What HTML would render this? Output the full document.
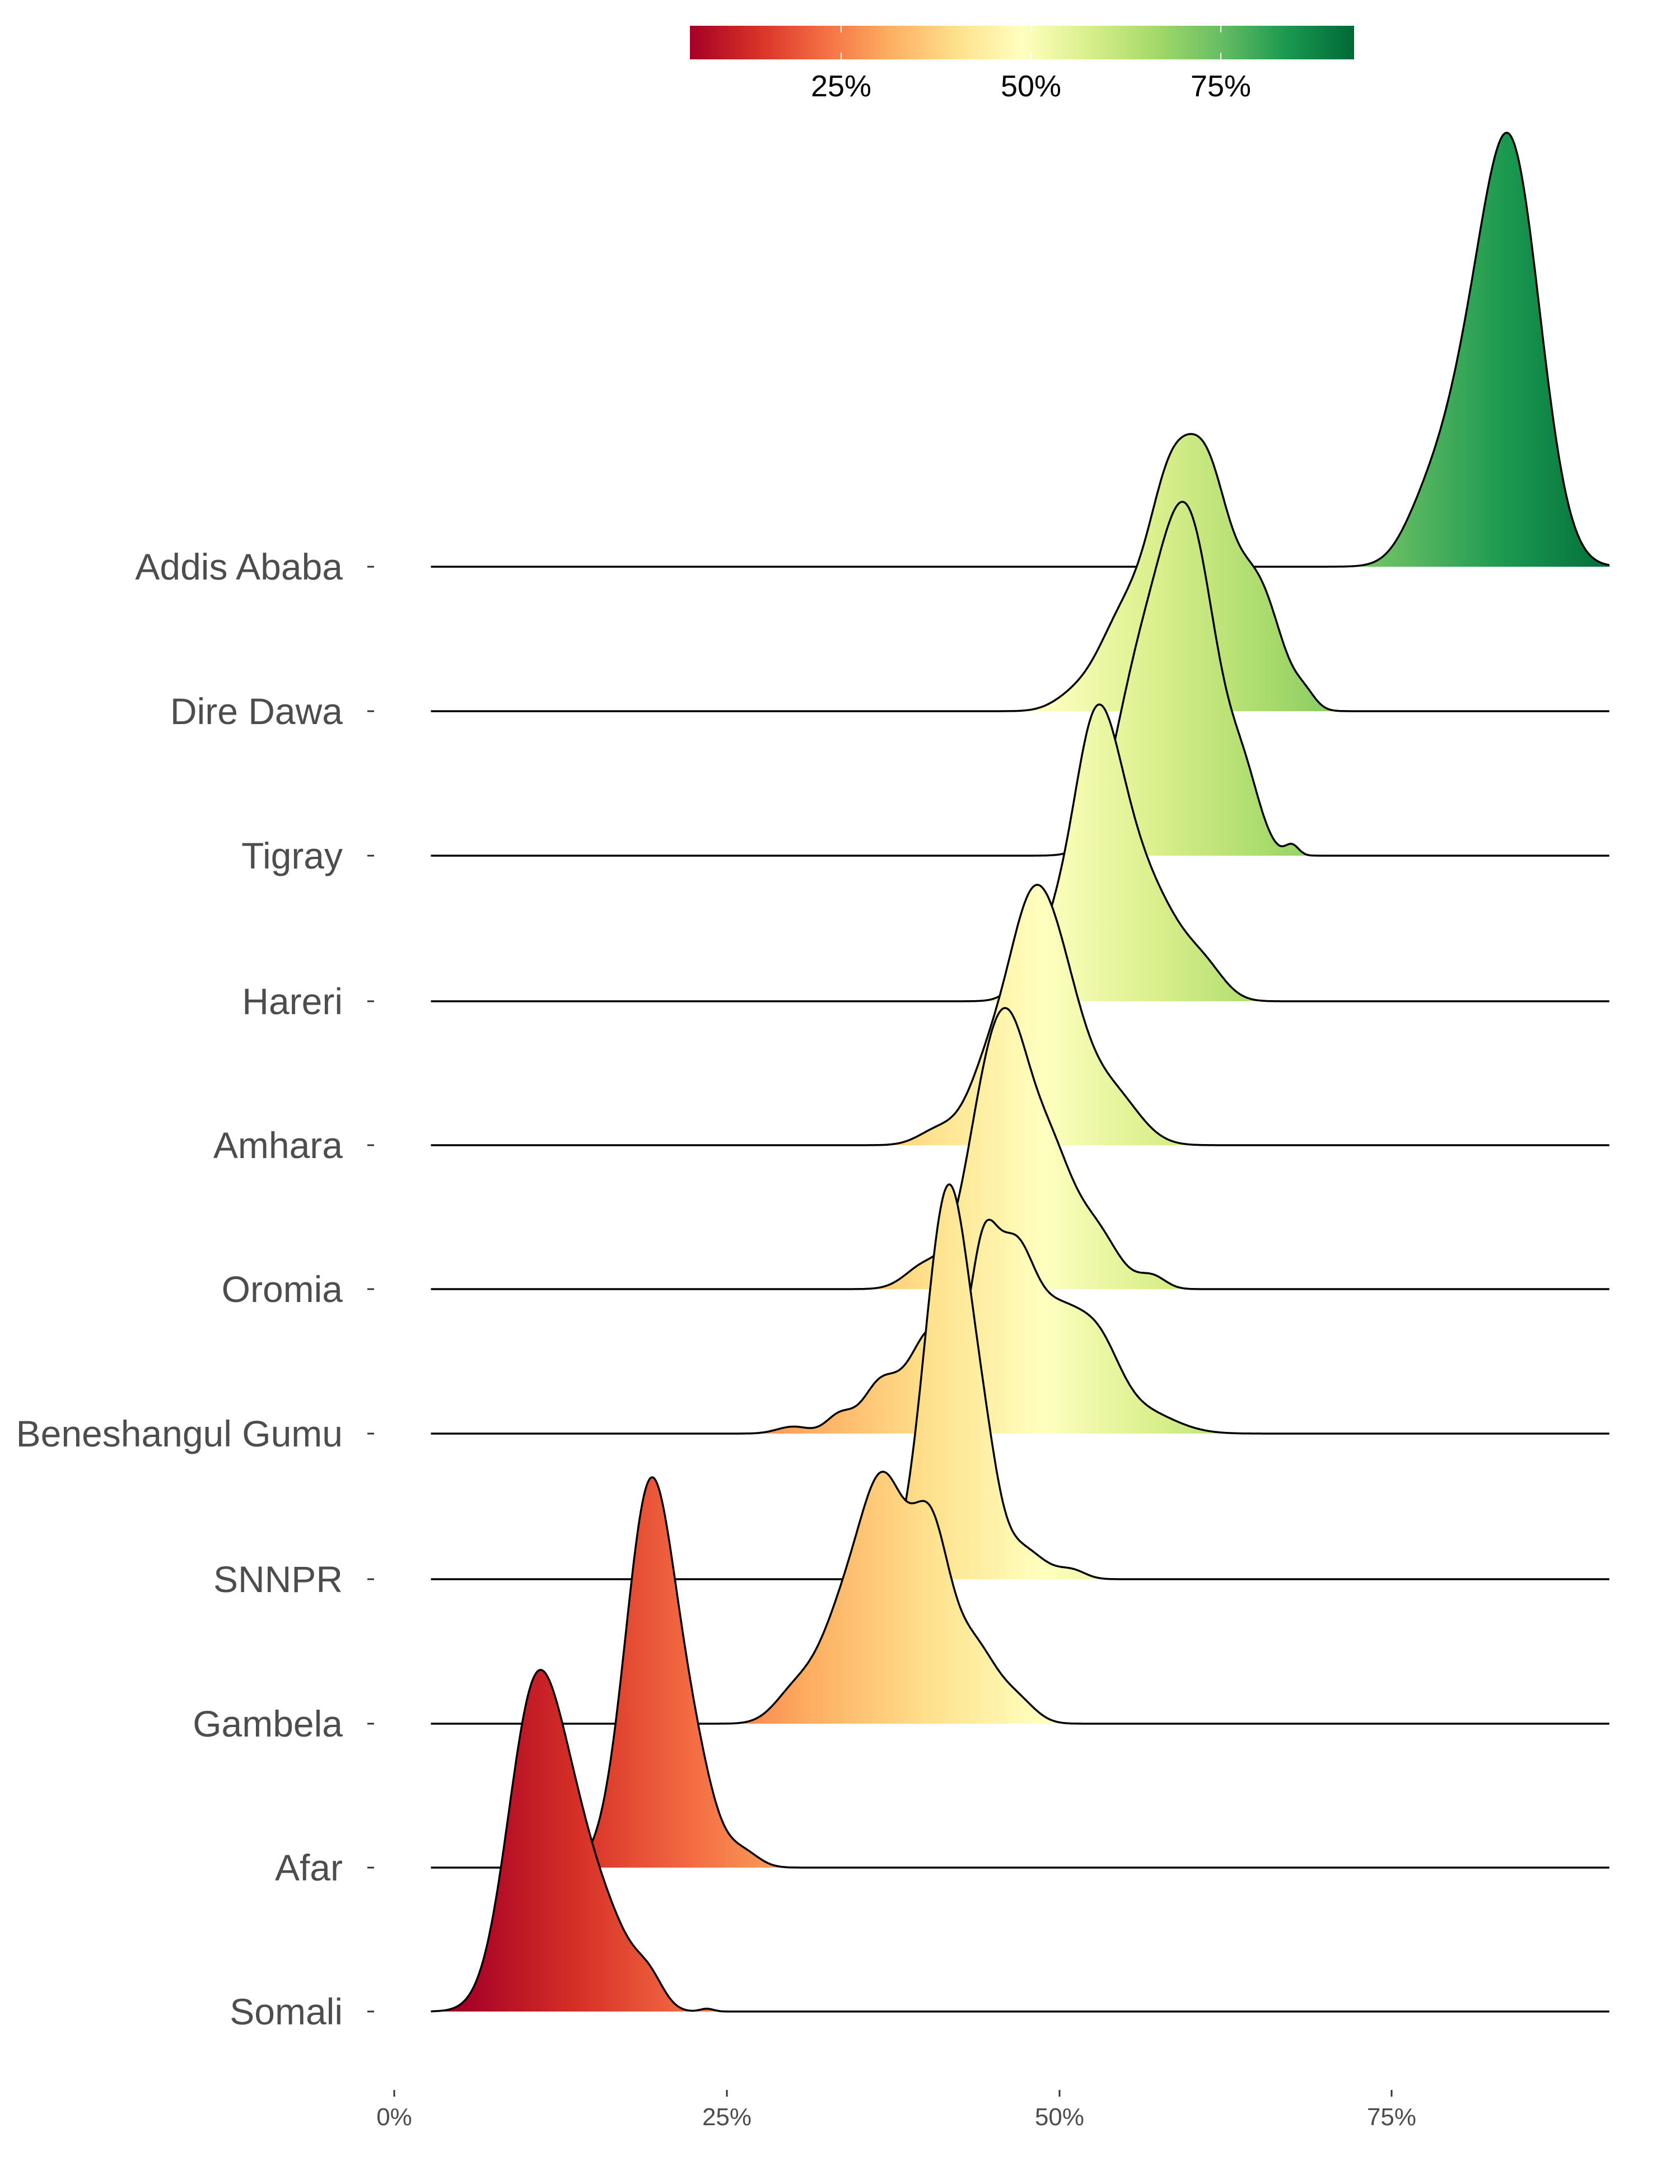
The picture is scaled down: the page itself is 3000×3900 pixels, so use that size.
<!DOCTYPE html>
<html><head><meta charset="utf-8"><style>
html,body{margin:0;padding:0;background:#fff;}
svg{display:block;}
</style></head><body>
<svg id="s" width="3000" height="3900" xmlns="http://www.w3.org/2000/svg" font-family="Liberation Sans, sans-serif">
<defs>
<linearGradient id="cb" x1="0" x2="1" y1="0" y2="0">
<stop offset="0" stop-color="#a50026"/><stop offset="0.1" stop-color="#d73027"/><stop offset="0.2" stop-color="#f46d43"/><stop offset="0.3" stop-color="#fdae61"/><stop offset="0.4" stop-color="#fee08b"/><stop offset="0.5" stop-color="#ffffbf"/><stop offset="0.6" stop-color="#d9ef8b"/><stop offset="0.7" stop-color="#a6d96a"/><stop offset="0.8" stop-color="#66bd63"/><stop offset="0.9" stop-color="#1a9850"/><stop offset="1" stop-color="#006837"/>
</linearGradient>
<linearGradient id="fg" gradientUnits="userSpaceOnUse" x1="825" x2="2899" y1="0" y2="0">
<stop offset="0" stop-color="#a50026"/><stop offset="0.1" stop-color="#d73027"/><stop offset="0.2" stop-color="#f46d43"/><stop offset="0.3" stop-color="#fdae61"/><stop offset="0.4" stop-color="#fee08b"/><stop offset="0.5" stop-color="#ffffbf"/><stop offset="0.6" stop-color="#d9ef8b"/><stop offset="0.7" stop-color="#a6d96a"/><stop offset="0.8" stop-color="#66bd63"/><stop offset="0.9" stop-color="#1a9850"/><stop offset="1" stop-color="#006837"/>
</linearGradient>
</defs>
<rect x="1232" y="46" width="1186" height="60" fill="url(#cb)"/>
<g stroke="#fff" stroke-width="2"><line x1="1502" y1="46" x2="1502" y2="58"/><line x1="1502" y1="94" x2="1502" y2="106"/><line x1="1841" y1="46" x2="1841" y2="58"/><line x1="1841" y1="94" x2="1841" y2="106"/><line x1="2180" y1="46" x2="2180" y2="58"/><line x1="2180" y1="94" x2="2180" y2="106"/></g>
<g font-size="54" fill="#000" text-anchor="middle"><text x="1502" y="172">25%</text><text x="1841" y="172">50%</text><text x="2180" y="172">75%</text></g>
<g id="rows"></g>
<g stroke="#333" stroke-width="3"><line x1="704" y1="3732" x2="704" y2="3744"/><line x1="1298" y1="3732" x2="1298" y2="3744"/><line x1="1892" y1="3732" x2="1892" y2="3744"/><line x1="2485" y1="3732" x2="2485" y2="3744"/></g>
<g font-size="44" fill="#4d4d4d" text-anchor="middle"><text x="704" y="3795">0%</text><text x="1298" y="3795">25%</text><text x="1892" y="3795">50%</text><text x="2485" y="3795">75%</text></g>
</svg>
<script>
var X=function(p){return 704+23.75*p;};
var rows=[
["Addis Ababa",1012,775,[[84.1,2.2,1],[80.6,2.5,0.4],[77,1.5,0.05]]],
["Dire Dawa",1270,495,[[61.2,1.7,0.9],[58.3,1.6,0.75],[55,2,0.4],[64.5,1.5,0.35],[66,1.5,0.2],[51,1.5,0.05],[68.5,0.8,0.05]]],
["Tigray",1528,632,[[59.5,2.3,1],[55.5,1.8,0.35],[64,1.2,0.15],[67.5,0.5,0.03]]],
["Hareri",1788,530,[[52.5,1.5,0.9],[54.3,1.8,0.8],[50,1.8,0.4],[57.5,2,0.45],[61,1.5,0.15],[47,1,0.03]]],
["Amhara",2045,465,[[47.7,1.8,1],[50.3,1.8,0.6],[44.5,1.5,0.3],[54,2,0.25],[41,1.5,0.08]]],
["Oromia",2302,502,[[46.2,1.8,1],[43.8,1.5,0.35],[49.5,1.5,0.4],[52.5,1.8,0.25],[40,1.5,0.1],[57,1,0.05]]],
["Beneshangul Gumu",2560,382,[[44.2,1.0,0.55],[46.5,1.6,0.75],[50,1.8,0.45],[53,1.6,0.3],[56,2.5,0.1],[40.5,1.8,0.45],[36.5,1.3,0.2],[33.5,1,0.08],[30,1.2,0.03]]],
["SNNPR",2820,705,[[41.7,1.8,1],[44.5,1,0.12],[47,1.8,0.08],[51,1,0.02]]],
["Gambela",3078,450,[[37,1.7,0.9],[40.3,1.4,0.75],[34,2,0.5],[43.5,1.8,0.35],[47,1.3,0.08],[30,1.5,0.12]]],
["Afar",3335,697,[[19.3,1.9,1],[22.7,1.5,0.2],[26.2,1.2,0.04]]],
["Somali",3592,610,[[10.4,2,1],[13.7,2.2,0.55],[19.2,1.1,0.1],[17,1.5,0.12],[23.5,0.5,0.01]]]
];
var g=document.getElementById("rows"),h="";
rows.forEach(function(r){
 var pts=[],mx=0;
 for(var p=2.76;p<=91.4;p+=0.1){var v=0;r[3].forEach(function(c){v+=c[2]*Math.exp(-0.5*Math.pow((p-c[0])/c[1],2));});pts.push([p,v]);if(v>mx)mx=v;}
 var d="";pts.forEach(function(q,i){d+=(i?"L":"M")+X(q[0]).toFixed(1)+","+(r[1]-q[1]/mx*r[2]).toFixed(1);});
 h+='<path d="'+d+'L'+X(91.4)+','+r[1]+'L'+X(2.76)+','+r[1]+'Z" fill="url(#fg)"/>';
 h+='<path d="'+d+'" fill="none" stroke="#000" stroke-width="3.5"/>';
 h+='<line x1="656" x2="668" y1="'+r[1]+'" y2="'+r[1]+'" stroke="#333" stroke-width="3"/>';
 h+='<text x="612" y="'+(r[1]+23)+'" font-size="66" fill="#4d4d4d" text-anchor="end">'+r[0]+'</text>';
});
g.innerHTML=h;
</script>
</body></html>
